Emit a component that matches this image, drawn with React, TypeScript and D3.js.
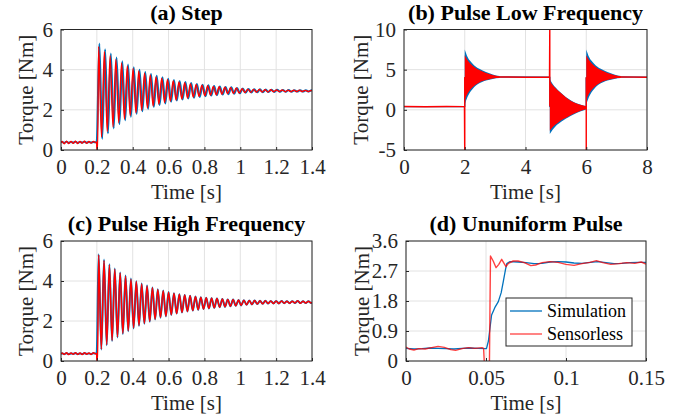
import React, { useEffect, useRef } from 'react';
import * as d3 from 'd3';

const BLUE = '#0072bd';
const RED = '#ff0000';
const FONT = '"Liberation Serif", "Times New Roman", serif';

// ---- (a) Step ----
const stepXTicks = [0, 0.2, 0.4, 0.6, 0.8, 1, 1.2, 1.4];
const stepXLabels = ['0', '0.2', '0.4', '0.6', '0.8', '1', '1.2', '1.4'];
const stepYTicks = [0, 2, 4, 6];
const stepYLabels = ['0', '2', '4', '6'];
const stepPreT = [0, 0.006, 0.018, 0.031, 0.043, 0.056, 0.068, 0.081, 0.093, 0.106, 0.118, 0.131, 0.143, 0.156, 0.168, 0.181, 0.193, 0.199];
const stepPreRed = [0.36, 0.42, 0.31, 0.44, 0.32, 0.43, 0.33, 0.44, 0.32, 0.43, 0.34, 0.44, 0.33, 0.42, 0.34, 0.43, 0.37, 0.4];
const stepPreBlue = [0.38, 0.4, 0.36, 0.41, 0.36, 0.4, 0.37, 0.41, 0.36, 0.4, 0.37, 0.41, 0.37, 0.4, 0.37, 0.4, 0.38, 0.39];
const stepJumpT = [0.2, 0.204];
const stepJumpRed = [0, 0];
const stepSimDelay = 0.004; // simulation lags the sensorless trace slightly
const stepOscT = [0.210, 0.226, 0.242, 0.258, 0.274, 0.290, 0.306, 0.322, 0.338, 0.354, 0.370, 0.386, 0.402, 0.418, 0.434, 0.450,
  0.466, 0.482, 0.498, 0.514, 0.530, 0.546, 0.562, 0.578, 0.594, 0.610, 0.626, 0.642, 0.658, 0.674, 0.690, 0.706, 0.722, 0.738,
  0.754, 0.770, 0.786, 0.802, 0.818, 0.834, 0.850, 0.866, 0.882, 0.898, 0.914, 0.930, 0.946, 0.962, 0.978, 0.994, 1.010, 1.026,
  1.042, 1.058, 1.074, 1.090, 1.106, 1.122, 1.138, 1.154, 1.170, 1.186, 1.202, 1.218, 1.234, 1.250, 1.266, 1.282, 1.298, 1.314,
  1.330, 1.346, 1.362, 1.378, 1.394, 1.400];
const stepOscRed = [5.15, 0.65, 4.91, 0.92, 4.70, 1.15, 4.51, 1.36, 4.34, 1.54, 4.19, 1.71, 4.06, 1.85, 3.94, 1.98, 3.83, 2.09,
  3.74, 2.19, 3.65, 2.28, 3.58, 2.36, 3.51, 2.43, 3.45, 2.49, 3.39, 2.54, 3.35, 2.59, 3.30, 2.63, 3.27, 2.67, 3.23, 2.70, 3.20,
  2.73, 3.17, 2.75, 3.15, 2.78, 3.13, 2.80, 3.11, 2.81, 3.09, 2.83, 3.05, 2.86, 3.03, 2.87, 3.02, 2.88, 3.01, 2.89, 3.00, 2.89,
  3.00, 2.90, 2.99, 2.90, 2.99, 2.90, 2.98, 2.91, 2.98, 2.91, 2.98, 2.91, 2.97, 2.91, 2.96, 2.95];
const stepOscBlue = [5.30, 0.55, 5.02, 0.83, 4.80, 1.07, 4.60, 1.29, 4.42, 1.48, 4.26, 1.65, 4.12, 1.80, 4.00, 1.93, 3.88, 2.05,
  3.79, 2.15, 3.70, 2.24, 3.62, 2.32, 3.55, 2.40, 3.49, 2.46, 3.43, 2.51, 3.38, 2.56, 3.33, 2.60, 3.29, 2.64, 3.25, 2.68, 3.22,
  2.71, 3.19, 2.73, 3.16, 2.76, 3.14, 2.78, 3.12, 2.80, 3.09, 2.82, 3.06, 2.85, 3.04, 2.86, 3.03, 2.87, 3.02, 2.88, 3.01, 2.89,
  3.00, 2.89, 3.00, 2.90, 2.99, 2.90, 2.99, 2.90, 2.98, 2.91, 2.98, 2.91, 2.98, 2.91, 2.97, 2.95];

// ---- (b) Pulse Low Frequency ----
const lowXTicks = [0, 2, 4, 6, 8];
const lowXLabels = ['0', '2', '4', '6', '8'];
const lowYTicks = [-5, 0, 5, 10];
const lowYLabels = ['-5', '0', '5', '10'];
const lowRedT = [0, 0.7, 1.4, 1.99, 2.0, 2.0, 3.14, 4.0, 4.79, 4.8, 4.8, 6.0, 6.0, 6.0, 7.14, 8];
const lowRedV = [0.42, 0.38, 0.42, 0.4, -6, 4.0, 4.1, 4.05, 4.05, 11, 0.5, 0.4, -6, 4.0, 4.1, 4.05];
const lowBlueT = [0, 2.0, 2.0, 3.14, 4.8, 4.8, 6.0, 6.0, 7.14, 8];
const lowBlueV = [0.4, 0.4, 4.0, 4.1, 4.05, 0.4, 0.4, 4.0, 4.1, 4.05];
const lowRiseStarts = [2, 6];
const lowRiseDt = [0, 0.09, 0.26, 0.48, 0.7, 0.92, 1.14];
const lowRiseRedHi = [6.8, 6.2, 5.5, 4.95, 4.6, 4.35, 4.15];
const lowRiseRedLo = [1.3, 2.0, 2.8, 3.4, 3.7, 3.9, 4.0];
const lowRiseBlueHi = [7.5, 6.6, 5.75, 5.1, 4.7, 4.4, 4.2];
const lowRiseBlueLo = [0.7, 1.6, 2.6, 3.3, 3.65, 3.85, 3.95];
const lowDropStart = 4.8;
const lowDropDt = [0, 0.1, 0.2, 0.3, 0.45, 0.6, 0.8, 1.0, 1.2];
const lowDropRedHi = [3.6, 3.05, 2.65, 2.3, 1.8, 1.35, 0.9, 0.62, 0.45];
const lowDropRedLo = [-2.6, -2.15, -1.8, -1.5, -1.15, -0.85, -0.45, -0.15, 0.1];
const lowDropBlueHi = [3.8, 3.2, 2.75, 2.35, 1.85, 1.4, 0.95, 0.65, 0.45];
const lowDropBlueLo = [-3.0, -2.45, -2.0, -1.7, -1.3, -0.95, -0.55, -0.2, 0.05];

// ---- (c) Pulse High Frequency ----
const highPreRed = [0.34, 0.4, 0.33, 0.41, 0.32, 0.4, 0.34, 0.41, 0.33, 0.4, 0.32, 0.41, 0.34, 0.4, 0.33, 0.41, 0.36, 0.38];
const highPreBlue = [0.36, 0.38, 0.35, 0.39, 0.35, 0.38, 0.36, 0.39, 0.35, 0.38, 0.35, 0.39, 0.36, 0.38, 0.35, 0.39, 0.37, 0.37];
const highOscT = [0.210, 0.225, 0.240, 0.255, 0.270, 0.285, 0.300, 0.315, 0.330, 0.345, 0.360, 0.375, 0.390, 0.405, 0.420, 0.435,
  0.450, 0.465, 0.480, 0.495, 0.510, 0.525, 0.540, 0.555, 0.570, 0.585, 0.600, 0.615, 0.630, 0.645, 0.660, 0.675, 0.690, 0.705,
  0.720, 0.735, 0.750, 0.765, 0.780, 0.795, 0.810, 0.825, 0.840, 0.855, 0.870, 0.885, 0.900, 0.915, 0.930, 0.945, 0.960, 0.975,
  0.990, 1.005, 1.020, 1.035, 1.050, 1.065, 1.080, 1.095, 1.110, 1.125, 1.140, 1.155, 1.170, 1.185, 1.200, 1.215, 1.230, 1.245,
  1.260, 1.275, 1.290, 1.305, 1.320, 1.335, 1.350, 1.365, 1.380, 1.395, 1.400];
const highOscRed = [5.30, 0.60, 5.03, 0.82, 4.80, 1.03, 4.59, 1.21, 4.40, 1.38, 4.24, 1.52, 4.09, 1.66, 3.97, 1.78, 3.85, 1.89,
  3.75, 1.99, 3.66, 2.09, 3.58, 2.17, 3.51, 2.24, 3.44, 2.31, 3.39, 2.37, 3.34, 2.43, 3.30, 2.48, 3.26, 2.52, 3.22, 2.56, 3.19,
  2.60, 3.16, 2.63, 3.14, 2.66, 3.12, 2.69, 3.10, 2.71, 3.08, 2.74, 3.07, 2.76, 3.05, 2.78, 3.04, 2.81, 3.03, 2.83, 3.02, 2.85,
  3.01, 2.86, 3.01, 2.87, 3.00, 2.88, 3.00, 2.88, 3.00, 2.89, 2.99, 2.89, 2.99, 2.90, 3.01, 2.89, 2.99, 2.90, 2.99, 2.90, 2.94];
const highOscBlue = [5.34, 0.57, 5.07, 0.79, 4.84, 1.00, 4.62, 1.18, 4.43, 1.35, 4.27, 1.49, 4.12, 1.63, 3.99, 1.76, 3.87, 1.87,
  3.77, 1.97, 3.67, 2.08, 3.59, 2.16, 3.52, 2.23, 3.45, 2.30, 3.39, 2.37, 3.34, 2.43, 3.30, 2.48, 3.26, 2.52, 3.22, 2.56, 3.19,
  2.60, 3.16, 2.63, 3.14, 2.66, 3.12, 2.69, 3.10, 2.71, 3.08, 2.74, 3.07, 2.76, 3.05, 2.78, 3.04, 2.81, 3.03, 2.83, 3.02, 2.85,
  3.01, 2.86, 3.01, 2.87, 3.00, 2.88, 3.00, 2.88, 3.00, 2.89, 2.99, 2.89, 2.99, 2.90, 3.00, 2.90, 2.99, 2.90, 2.99, 2.90, 2.94];

// ---- (d) Ununiform Pulse ----
const unXTicks = [0, 0.05, 0.1, 0.15];
const unXLabels = ['0', '0.05', '0.1', '0.15'];
const unYTicks = [0, 0.9, 1.8, 2.7, 3.6];
const unYLabels = ['0', '0.9', '1.8', '2.7', '3.6'];
const unSimT = [0, 0.005, 0.01, 0.015, 0.02, 0.025, 0.03, 0.035, 0.04, 0.045, 0.0503, 0.0515, 0.0535, 0.0555, 0.0577, 0.0595,
  0.0608, 0.0622, 0.063, 0.065, 0.07, 0.075, 0.08, 0.085, 0.09, 0.095, 0.1, 0.105, 0.11, 0.115, 0.12, 0.125, 0.13, 0.135, 0.14,
  0.145, 0.15];
const unSimV = [0.38, 0.36, 0.37, 0.39, 0.38, 0.37, 0.36, 0.38, 0.39, 0.38, 0.37, 0.6, 1.38, 1.6, 1.78, 2.05, 2.38, 2.75, 2.92,
  2.98, 2.97, 2.95, 2.92, 2.93, 2.97, 2.98, 2.97, 2.94, 2.93, 2.96, 2.98, 2.95, 2.92, 2.93, 2.95, 2.96, 2.96];
const unSenT = [0, 0.002, 0.005, 0.008, 0.012, 0.016, 0.02, 0.024, 0.028, 0.031, 0.035, 0.039, 0.043, 0.0475, 0.0485, 0.0492,
  0.0521, 0.0528, 0.0545, 0.0563, 0.058, 0.0598, 0.061, 0.0625, 0.064, 0.067, 0.07, 0.074, 0.078, 0.081, 0.085, 0.09, 0.095, 0.1,
  0.105, 0.11, 0.115, 0.119, 0.123, 0.128, 0.133, 0.138, 0.143, 0.147, 0.15];
const unSenV = [0.42, 0.36, 0.33, 0.37, 0.36, 0.4, 0.44, 0.41, 0.34, 0.32, 0.37, 0.4, 0.38, 0.4, 0.38, -0.3, -0.3, 3.15, 3.0,
  2.8, 2.9, 3.05, 2.95, 2.83, 2.93, 3.0, 3.0, 2.95, 2.86, 2.88, 2.95, 2.98, 2.96, 2.9, 2.87, 2.92, 2.96, 3.01, 2.95, 2.9, 2.92,
  2.95, 2.93, 2.97, 2.91];
const legendNames = ['Simulation', 'Sensorless'];

type Pt = [number, number];
const pts = (t: number[], v: number[], t0 = 0): Pt[] => t.map((x, i) => [x + t0, v[i]] as Pt);

type Mark =
  | { kind: 'line'; data: Pt[]; color: string; width: number; curve: d3.CurveFactory; opacity?: number }
  | { kind: 'band'; t: number[]; hi: number[]; lo: number[]; color: string };

type Panel = {
  id: string; left: number; top: number; width: number; height: number;
  xDomain: [number, number]; yDomain: [number, number];
  xTicks: number[]; xLabels: string[]; yTicks: number[]; yLabels: string[];
  title: string; ylabelX: number; marks: Mark[];
};

function drawPanel(svg: d3.Selection<SVGSVGElement, unknown, null, undefined>, p: Panel) {
  const x = d3.scaleLinear().domain(p.xDomain).range([0, p.width]);
  const y = d3.scaleLinear().domain(p.yDomain).range([p.height, 0]);
  const g = svg.append('g').attr('transform', `translate(${p.left},${p.top})`);

  g.append('rect').attr('width', p.width).attr('height', p.height).attr('fill', '#fff');

  // grid
  g.append('g').selectAll('line').data(p.xTicks).join('line')
    .attr('x1', (d) => x(d)).attr('x2', (d) => x(d)).attr('y1', 0).attr('y2', p.height)
    .attr('stroke', '#e2e2e2').attr('stroke-width', 1);
  g.append('g').selectAll('line').data(p.yTicks).join('line')
    .attr('y1', (d) => y(d)).attr('y2', (d) => y(d)).attr('x1', 0).attr('x2', p.width)
    .attr('stroke', '#e2e2e2').attr('stroke-width', 1);

  svg.append('defs').append('clipPath').attr('id', `clip-${p.id}`)
    .append('rect').attr('width', p.width).attr('height', p.height);
  const plot = g.append('g').attr('clip-path', `url(#clip-${p.id})`);

  p.marks.forEach((m) => {
    if (m.kind === 'line') {
      const line = d3.line<Pt>().x((d) => x(d[0])).y((d) => y(d[1])).curve(m.curve);
      plot.append('path').attr('d', line(m.data)).attr('fill', 'none')
        .attr('stroke', m.color).attr('stroke-width', m.width)
        .attr('stroke-opacity', m.opacity ?? 1).attr('stroke-linejoin', 'round');
    } else {
      const idx = m.t.map((_, i) => i);
      const area = d3.area<number>().x((i) => x(m.t[i])).y0((i) => y(m.lo[i])).y1((i) => y(m.hi[i]))
        .curve(d3.curveMonotoneX);
      plot.append('path').attr('d', area(idx)).attr('fill', m.color);
    }
  });

  // axes
  const xAxis = d3.axisBottom(x).tickValues(p.xTicks).tickFormat((_, i) => p.xLabels[i])
    .tickSizeInner(-3).tickSizeOuter(0).tickPadding(9);
  const yAxis = d3.axisLeft(y).tickValues(p.yTicks).tickFormat((_, i) => p.yLabels[i])
    .tickSizeInner(-3).tickSizeOuter(0).tickPadding(8);
  const ax = g.append('g').attr('transform', `translate(0,${p.height})`).call(xAxis);
  const ay = g.append('g').call(yAxis);
  [ax, ay].forEach((a) => {
    a.select('.domain').remove();
    a.selectAll('line').attr('stroke', '#262626');
    a.selectAll('text').attr('font-family', FONT).attr('font-size', 21).attr('fill', '#262626');
  });

  g.append('rect').attr('width', p.width).attr('height', p.height)
    .attr('fill', 'none').attr('stroke', '#262626').attr('stroke-width', 1);

  g.append('text').attr('x', p.width / 2).attr('y', -10).attr('text-anchor', 'middle')
    .attr('font-family', FONT).attr('font-size', 22).attr('font-weight', 'bold').attr('fill', '#000')
    .text(p.title);
  g.append('text').attr('x', p.width / 2).attr('y', p.height + 49).attr('text-anchor', 'middle')
    .attr('font-family', FONT).attr('font-size', 21).attr('fill', '#262626').text('Time [s]');
  g.append('text').attr('transform', `translate(${p.ylabelX - p.left},${p.height / 2}) rotate(-90)`)
    .attr('text-anchor', 'middle').attr('font-family', FONT).attr('font-size', 21).attr('fill', '#262626')
    .text('Torque [Nm]');

  return { g, x, y };
}

const App = () => {
  const svgRef = useRef<SVGSVGElement>(null);

  useEffect(() => {
    const svg = d3.select(svgRef.current as SVGSVGElement);
    svg.selectAll('*').remove();
    const smooth = d3.curveMonotoneX;

    drawPanel(svg, {
      id: 'a', left: 61, top: 29.5, width: 251, height: 120.5,
      xDomain: [0, 1.4], yDomain: [0, 6],
      xTicks: stepXTicks, xLabels: stepXLabels, yTicks: stepYTicks, yLabels: stepYLabels,
      title: '(a) Step', ylabelX: 33,
      marks: [
        { kind: 'line', data: [...pts(stepPreT, stepPreBlue), ...pts(stepOscT, stepOscBlue, stepSimDelay)], color: BLUE, width: 2.0, curve: smooth },
        { kind: 'line', data: [...pts(stepPreT, stepPreRed), ...pts(stepJumpT, stepJumpRed), ...pts(stepOscT, stepOscRed)], color: RED, width: 1.4, curve: smooth },
      ],
    });

    const lowMarks: Mark[] = [];
    lowRiseStarts.forEach((s) => lowMarks.push({ kind: 'band', t: lowRiseDt.map((d) => d + s), hi: lowRiseBlueHi, lo: lowRiseBlueLo, color: BLUE }));
    lowMarks.push({ kind: 'band', t: lowDropDt.map((d) => d + lowDropStart), hi: lowDropBlueHi, lo: lowDropBlueLo, color: BLUE });
    lowMarks.push({ kind: 'line', data: pts(lowBlueT, lowBlueV), color: BLUE, width: 1.4, curve: d3.curveLinear });
    lowRiseStarts.forEach((s) => lowMarks.push({ kind: 'band', t: lowRiseDt.map((d) => d + s), hi: lowRiseRedHi, lo: lowRiseRedLo, color: RED }));
    lowMarks.push({ kind: 'band', t: lowDropDt.map((d) => d + lowDropStart), hi: lowDropRedHi, lo: lowDropRedLo, color: RED });
    lowMarks.push({ kind: 'line', data: pts(lowRedT, lowRedV), color: RED, width: 1.4, curve: d3.curveLinear });

    drawPanel(svg, {
      id: 'b', left: 404, top: 29.5, width: 243, height: 120.5,
      xDomain: [0, 8], yDomain: [-5, 10],
      xTicks: lowXTicks, xLabels: lowXLabels, yTicks: lowYTicks, yLabels: lowYLabels,
      title: '(b) Pulse Low Frequency', ylabelX: 368,
      marks: lowMarks,
    });

    drawPanel(svg, {
      id: 'c', left: 61, top: 241, width: 251, height: 120,
      xDomain: [0, 1.4], yDomain: [0, 6],
      xTicks: stepXTicks, xLabels: stepXLabels, yTicks: stepYTicks, yLabels: stepYLabels,
      title: '(c) Pulse High Frequency', ylabelX: 33,
      marks: [
        { kind: 'line', data: [...pts(stepPreT, highPreBlue), ...pts(highOscT, highOscBlue)], color: BLUE, width: 2.0, curve: smooth },
        { kind: 'line', data: [...pts(stepPreT, highPreRed), ...pts(stepJumpT, stepJumpRed), ...pts(highOscT, highOscRed)], color: RED, width: 1.5, curve: smooth },
      ],
    });

    const d = drawPanel(svg, {
      id: 'd', left: 406, top: 241, width: 240, height: 120,
      xDomain: [0, 0.15], yDomain: [0, 3.6],
      xTicks: unXTicks, xLabels: unXLabels, yTicks: unYTicks, yLabels: unYLabels,
      title: '(d) Ununiform Pulse', ylabelX: 369,
      marks: [
        { kind: 'line', data: pts(unSimT, unSimV), color: BLUE, width: 1.3, curve: d3.curveLinear },
        { kind: 'line', data: pts(unSenT, unSenV), color: RED, width: 1.4, curve: d3.curveLinear, opacity: 0.75 },
      ],
    });

    // legend
    const lg = d.g.append('g').attr('transform', 'translate(100,57)');
    lg.append('rect').attr('width', 126).attr('height', 48).attr('fill', '#fff')
      .attr('stroke', '#262626').attr('stroke-width', 1);
    legendNames.forEach((name, i) => {
      const cy = 13 + i * 23;
      lg.append('line').attr('x1', 4).attr('x2', 36).attr('y1', cy).attr('y2', cy)
        .attr('stroke', i === 0 ? BLUE : RED).attr('stroke-width', 1.3).attr('stroke-opacity', i === 0 ? 1 : 0.75);
      lg.append('text').attr('x', 41).attr('y', cy).attr('dy', '0.35em')
        .attr('font-family', FONT).attr('font-size', 18).attr('fill', '#000').text(name);
    });
  }, []);

  return (
    <svg ref={svgRef} width={695} height={420}
      style={{ position: 'absolute', left: 0, top: 0, background: '#fff' }} />
  );
};

export default App;
